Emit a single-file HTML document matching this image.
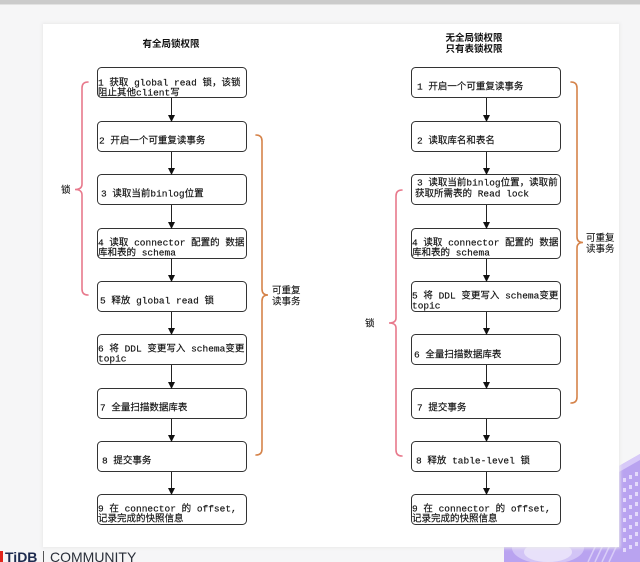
<!DOCTYPE html>
<html><head><meta charset="utf-8">
<style>
html,body{margin:0;padding:0;background:#f6f6f7;}
svg{display:block;}
.m{font-family:"Liberation Mono","Noto Sans CJK SC",monospace;font-size:9.5px;fill:#111;stroke:#111;stroke-width:0.15px;}
.t{font-family:"Liberation Sans","Noto Sans CJK SC",sans-serif;font-size:9.5px;font-weight:bold;fill:#111;}
.l{font-family:"Liberation Sans","Noto Sans CJK SC",sans-serif;font-size:9.5px;fill:#111;stroke:#111;stroke-width:0.1px;}
</style></head>
<body>
<svg width="640" height="562" viewBox="0 0 640 562" xmlns="http://www.w3.org/2000/svg">
<defs>
<marker id="ah" markerWidth="8" markerHeight="8" refX="6" refY="3.5" orient="auto" markerUnits="userSpaceOnUse">
<path d="M0,0 L7,3.5 L0,7 Z" fill="#111"/>
</marker>
<filter id="sh" x="-5%" y="-5%" width="110%" height="110%"><feGaussianBlur stdDeviation="1.5"/></filter>
</defs>
<rect x="0" y="0" width="640" height="562" fill="#f6f6f7"/>
<rect x="0" y="0" width="640" height="4" fill="#cbcbcb"/>
<rect x="0" y="4" width="640" height="1" fill="#e2e2e2"/>

<!-- purple decoration -->
<polygon points="619,466 640,454 640,562 619,562" fill="#b9a3f0"/>
<polygon points="619,466 640,454 640,460 619,472" fill="#d7c9f8"/>
<g fill="#e4dafb">
<rect x="623" y="478" width="3" height="4"/><rect x="629" y="475" width="3" height="4"/><rect x="635" y="472" width="3" height="4"/>
<rect x="623" y="488" width="3" height="4"/><rect x="629" y="485" width="3" height="4"/><rect x="635" y="482" width="3" height="4"/>
<rect x="623" y="498" width="3" height="4"/><rect x="629" y="495" width="3" height="4"/><rect x="635" y="492" width="3" height="4"/>
<rect x="623" y="508" width="3" height="4"/><rect x="629" y="505" width="3" height="4"/><rect x="635" y="502" width="3" height="4"/>
<rect x="623" y="518" width="3" height="4"/><rect x="629" y="515" width="3" height="4"/><rect x="635" y="512" width="3" height="4"/>
<rect x="623" y="528" width="3" height="4"/><rect x="629" y="525" width="3" height="4"/><rect x="635" y="522" width="3" height="4"/>
<rect x="623" y="538" width="3" height="4"/><rect x="629" y="535" width="3" height="4"/><rect x="635" y="532" width="3" height="4"/>
<rect x="623" y="548" width="3" height="4"/><rect x="629" y="545" width="3" height="4"/><rect x="635" y="542" width="3" height="4"/>
</g>
<rect x="504" y="545" width="115" height="17" fill="#b9a3f0"/>
<ellipse cx="548" cy="548" rx="36" ry="16" fill="#d2c4f6"/>
<ellipse cx="548" cy="552" rx="24" ry="10" fill="#e8e1fa"/>
<g stroke="#d9cdf8" stroke-width="1.5">
<line x1="588" y1="562" x2="596" y2="545"/><line x1="595" y1="562" x2="603" y2="545"/><line x1="602" y1="562" x2="610" y2="545"/><line x1="609" y1="562" x2="617" y2="545"/>
</g>

<!-- panel -->
<rect x="42" y="23" width="578" height="525" fill="#e9e9ea" filter="url(#sh)"/>
<rect x="43" y="24" width="576" height="523" fill="#ffffff"/>

<!-- titles -->
<text class="t" x="171" y="47" text-anchor="middle">有全局锁权限</text>
<text class="t" x="474" y="41" text-anchor="middle">无全局锁权限</text>
<text class="t" x="474" y="52" text-anchor="middle">只有表锁权限</text>

<!-- left boxes -->
<g fill="#fff" stroke="#333" stroke-width="1">
<rect x="97.5" y="67.5" width="149" height="30" rx="4"/>
<rect x="97.5" y="121.5" width="149" height="30" rx="4"/>
<rect x="97.5" y="174.5" width="149" height="30" rx="4"/>
<rect x="97.5" y="228.5" width="149" height="30" rx="4"/>
<rect x="97.5" y="281.5" width="149" height="30" rx="4"/>
<rect x="97.5" y="334.5" width="149" height="30" rx="4"/>
<rect x="97.5" y="388.5" width="149" height="30" rx="4"/>
<rect x="97.5" y="441.5" width="149" height="30" rx="4"/>
<rect x="97.5" y="494.5" width="149" height="30" rx="4"/>
</g>
<!-- right boxes -->
<g fill="#fff" stroke="#333" stroke-width="1">
<rect x="411.5" y="67.5" width="149" height="30" rx="4"/>
<rect x="411.5" y="121.5" width="149" height="30" rx="4"/>
<rect x="411.5" y="174.5" width="149" height="30" rx="4"/>
<rect x="411.5" y="228.5" width="149" height="30" rx="4"/>
<rect x="411.5" y="281.5" width="149" height="30" rx="4"/>
<rect x="411.5" y="334.5" width="149" height="30" rx="4"/>
<rect x="411.5" y="388.5" width="149" height="30" rx="4"/>
<rect x="411.5" y="441.5" width="149" height="30" rx="4"/>
<rect x="411.5" y="494.5" width="149" height="30" rx="4"/>
</g>

<!-- arrows -->
<g stroke="#222" stroke-width="1" marker-end="url(#ah)">
<line x1="171.5" y1="98" x2="171.5" y2="121"/>
<line x1="171.5" y1="152" x2="171.5" y2="174"/>
<line x1="171.5" y1="205" x2="171.5" y2="228"/>
<line x1="171.5" y1="259" x2="171.5" y2="281"/>
<line x1="171.5" y1="312" x2="171.5" y2="334"/>
<line x1="171.5" y1="365" x2="171.5" y2="388"/>
<line x1="171.5" y1="419" x2="171.5" y2="441"/>
<line x1="171.5" y1="472" x2="171.5" y2="494"/>
<line x1="486.5" y1="98" x2="486.5" y2="121"/>
<line x1="486.5" y1="152" x2="486.5" y2="174"/>
<line x1="486.5" y1="205" x2="486.5" y2="228"/>
<line x1="486.5" y1="259" x2="486.5" y2="281"/>
<line x1="486.5" y1="312" x2="486.5" y2="334"/>
<line x1="486.5" y1="365" x2="486.5" y2="388"/>
<line x1="486.5" y1="419" x2="486.5" y2="441"/>
<line x1="486.5" y1="472" x2="486.5" y2="494"/>
</g>

<!-- left texts -->
<text class="m" x="98" y="85.5">1 获取 global read 锁，该锁</text>
<text class="m" x="98" y="95.5">阻止其他client写</text>
<text class="m" x="99" y="143.5">2 开启一个可重复读事务</text>
<text class="m" x="101" y="196.5">3 读取当前binlog位置</text>
<text class="m" x="98" y="245.5">4 读取 connector 配置的 数据</text>
<text class="m" x="98" y="255.5">库和表的 schema</text>
<text class="m" x="100" y="303.5">5 释放 global read 锁</text>
<text class="m" x="98" y="351.5">6 将 DDL 变更写入 schema变更</text>
<text class="m" x="98" y="361.5">topic</text>
<text class="m" x="100" y="410.5">7 全量扫描数据库表</text>
<text class="m" x="102" y="463.5">8 提交事务</text>
<text class="m" x="98" y="511.5">9 在 connector 的 offset,</text>
<text class="m" x="98" y="521.5">记录完成的快照信息</text>

<!-- right texts -->
<text class="m" x="417" y="89.5">1 开启一个可重复读事务</text>
<text class="m" x="417" y="143.5">2 读取库名和表名</text>
<text class="m" x="417" y="185.5">3 读取当前binlog位置，读取前</text>
<text class="m" x="415" y="196.5">获取所需表的 Read lock</text>
<text class="m" x="412" y="245.5">4 读取 connector 配置的 数据</text>
<text class="m" x="412" y="255.5">库和表的 schema</text>
<text class="m" x="412" y="298.5">5 将 DDL 变更写入 schema变更</text>
<text class="m" x="412" y="308.5">topic</text>
<text class="m" x="414" y="357.5">6 全量扫描数据库表</text>
<text class="m" x="417" y="410.5">7 提交事务</text>
<text class="m" x="416" y="463.5">8 释放 table-level 锁</text>
<text class="m" x="412" y="511.5">9 在 connector 的 offset,</text>
<text class="m" x="412" y="521.5">记录完成的快照信息</text>

<!-- braces -->
<g fill="none" stroke-width="1.6" stroke-linecap="round">
<path stroke="#e8798c" d="M88,82 Q82,82 82,88 L82,184 Q82,189.5 75,189.5 Q82,189.5 82,195 L82,289 Q82,295 88,295"/>
<path stroke="#d5834a" d="M256,135 Q262,135 262,141 L262,289 Q262,295 268,295 Q262,295 262,301 L262,449 Q262,455 256,455"/>
<path stroke="#d5834a" d="M571,82 Q577,82 577,88 L577,237 Q577,242.5 583,242.5 Q577,242.5 577,248 L577,397 Q577,403 571,403"/>
<path stroke="#e8798c" d="M402,190 Q396,190 396,196 L396,318 Q396,323 389,323 Q396,323 396,328 L396,450 Q396,456 402,456"/>
</g>

<!-- brace labels -->
<text class="l" x="61" y="193">锁</text>
<text class="l" x="365" y="326.5">锁</text>
<text class="l" x="272" y="293.5">可重复</text>
<text class="l" x="272" y="304.5">读事务</text>
<text class="l" x="586" y="241">可重复</text>
<text class="l" x="586" y="252">读事务</text>

<!-- logo -->
<rect x="0" y="551" width="3" height="11" fill="#e1251b"/>
<text x="5" y="562" font-family="Liberation Sans, sans-serif" font-size="14" font-weight="bold" fill="#1d2b4f">TiDB</text>
<rect x="43" y="551" width="1" height="11" fill="#555"/>
<text x="50" y="562" font-family="Liberation Sans, sans-serif" font-size="14" fill="#2a2f3a">COMMUNITY</text>
</svg>
</body></html>
